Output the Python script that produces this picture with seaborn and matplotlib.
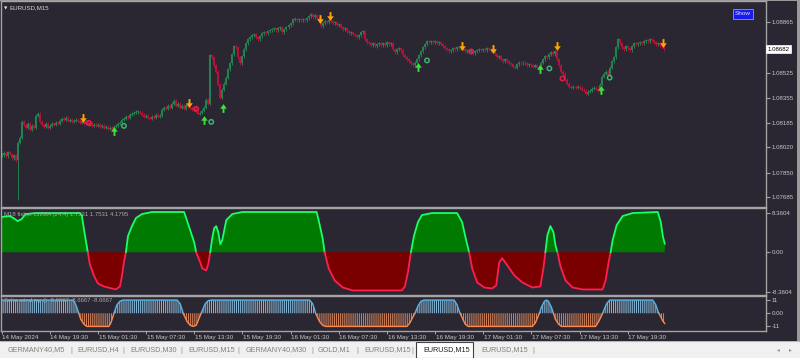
import numpy as np
import matplotlib
matplotlib.use("Agg")
import matplotlib.pyplot as plt
import matplotlib.transforms as mtrans
from matplotlib.path import Path
import seaborn as sns

# ---------------- data ----------------
close_price = [
    1.07968, 1.07982, 1.07961, 1.07988, 1.07975, 1.07947, 1.07968, 1.07933, 1.08050, 1.08084,
    1.08192, 1.08172, 1.08152, 1.08179, 1.08138, 1.08165, 1.08152, 1.08233, 1.08247, 1.08192,
    1.08172, 1.08158, 1.08179, 1.08152, 1.08165, 1.08179, 1.08172, 1.08186, 1.08179, 1.08199,
    1.08213, 1.08206, 1.08220, 1.08199, 1.08206, 1.08192, 1.08199, 1.08206, 1.08199, 1.08186,
    1.08199, 1.08179, 1.08192, 1.08172, 1.08186, 1.08165, 1.08172, 1.08165, 1.08172, 1.08158,
    1.08165, 1.08152, 1.08158, 1.08145, 1.08152, 1.08138, 1.08158, 1.08165, 1.08179, 1.08186,
    1.08206, 1.08213, 1.08227, 1.08220, 1.08240, 1.08247, 1.08254, 1.08261, 1.08261, 1.08254,
    1.08240, 1.08227, 1.08233, 1.08220, 1.08213, 1.08227, 1.08220, 1.08240, 1.08227, 1.08233,
    1.08274, 1.08288, 1.08281, 1.08302, 1.08288, 1.08315, 1.08335, 1.08302, 1.08315, 1.08288,
    1.08302, 1.08281, 1.08308, 1.08295, 1.08288, 1.08274, 1.08288, 1.08261, 1.08247, 1.08254,
    1.08268, 1.08288, 1.08342, 1.08315, 1.08641, 1.08627, 1.08573, 1.08532, 1.08444, 1.08356,
    1.08410, 1.08451, 1.08491, 1.08546, 1.08587, 1.08648, 1.08702, 1.08696, 1.08627, 1.08587,
    1.08634, 1.08682, 1.08723, 1.08750, 1.08764, 1.08777, 1.08784, 1.08764, 1.08750, 1.08771,
    1.08791, 1.08798, 1.08791, 1.08804, 1.08811, 1.08818, 1.08825, 1.08811, 1.08825, 1.08832,
    1.08798, 1.08818, 1.08832, 1.08845, 1.08859, 1.08886, 1.08886, 1.08879, 1.08886, 1.08879,
    1.08886, 1.08879, 1.08893, 1.08906, 1.08920, 1.08899, 1.08913, 1.08893, 1.08872, 1.08838,
    1.08859, 1.08872, 1.08866, 1.08879, 1.08872, 1.08859, 1.08866, 1.08845, 1.08852, 1.08832,
    1.08818, 1.08825, 1.08804, 1.08791, 1.08798, 1.08784, 1.08777, 1.08764, 1.08777, 1.08798,
    1.08804, 1.08750, 1.08730, 1.08723, 1.08709, 1.08723, 1.08702, 1.08716, 1.08723, 1.08709,
    1.08723, 1.08709, 1.08730, 1.08716, 1.08723, 1.08682, 1.08662, 1.08682, 1.08689, 1.08675,
    1.08641, 1.08627, 1.08614, 1.08600, 1.08587, 1.08573, 1.08593, 1.08614, 1.08641, 1.08668,
    1.08696, 1.08716, 1.08737, 1.08730, 1.08737, 1.08730, 1.08737, 1.08723, 1.08730, 1.08716,
    1.08702, 1.08689, 1.08682, 1.08668, 1.08675, 1.08689, 1.08682, 1.08696, 1.08689, 1.08696,
    1.08682, 1.08668, 1.08675, 1.08662, 1.08675, 1.08655, 1.08668, 1.08675, 1.08682, 1.08675,
    1.08682, 1.08675, 1.08689, 1.08682, 1.08675, 1.08668, 1.08648, 1.08627, 1.08634, 1.08614,
    1.08600, 1.08614, 1.08600, 1.08587, 1.08580, 1.08566, 1.08559, 1.08580, 1.08593, 1.08587,
    1.08593, 1.08587, 1.08573, 1.08580, 1.08573, 1.08566, 1.08573, 1.08559, 1.08566, 1.08593,
    1.08614, 1.08634, 1.08627, 1.08648, 1.08662, 1.08648, 1.08668, 1.08614, 1.08573, 1.08532,
    1.08518, 1.08478, 1.08451, 1.08430, 1.08423, 1.08430, 1.08423, 1.08430, 1.08423, 1.08410,
    1.08403, 1.08383, 1.08396, 1.08403, 1.08417, 1.08423, 1.08417, 1.08403, 1.08444, 1.08498,
    1.08518, 1.08532, 1.08512, 1.08559, 1.08600, 1.08627, 1.08696, 1.08750, 1.08723, 1.08696,
    1.08682, 1.08702, 1.08689, 1.08675, 1.08702, 1.08723, 1.08716, 1.08723, 1.08730, 1.08723,
    1.08737, 1.08744, 1.08737, 1.08750, 1.08744, 1.08730, 1.08716, 1.08723, 1.08709, 1.08702,
    1.08682,
]
spike_bar = [8]
spike_low = [1.07661]

down_arrow_bar = [40.5, 93.5, 158.5, 163.5, 229.5, 245, 277, 329.5]
down_arrow_price = [1.08219, 1.08321, 1.08886, 1.08907, 1.08702, 1.08682, 1.08702, 1.08723]
up_arrow_bar = [56, 101, 110.5, 207.5, 268.5, 298.5]
up_arrow_price = [1.08131, 1.08206, 1.08287, 1.08560, 1.08546, 1.08410]
green_ring_bar = [61, 104.5, 212, 273, 303]
green_ring_price = [1.08165, 1.08192, 1.08607, 1.08553, 1.08491]
red_ring_bar = [43.5, 97, 234, 279.5]
red_ring_price = [1.08185, 1.08280, 1.08668, 1.08485]

price_ticks = [1.08865, 1.08525, 1.08355, 1.08185, 1.08020, 1.07850, 1.07685]
last_price = 1.08682

fisher_bar = [0, 4, 6, 8, 10, 12, 17, 39, 40, 41, 42, 43, 44, 46, 48, 51, 55, 57, 59, 60,
              61, 62, 63, 65, 67, 70, 75, 91, 92, 94, 96, 97, 99, 100, 102, 103, 104, 105, 106, 107,
              108, 109, 110, 111, 112, 115, 120, 157, 158, 160, 161, 163, 166, 170, 175, 199.5, 201, 202.5, 204, 205.5,
              207.5, 209.5, 214.5, 227, 229.5, 231.5, 233, 234.5, 237, 240.5, 244.5, 246.5, 248, 249.5, 252, 255.5, 259.5, 264.5, 268.5, 270,
              271, 272, 273.5, 275, 276, 277, 278.5, 281, 284.5, 289.5, 299.5, 301, 302.5, 303.5, 304.5, 306.5, 309.5, 314.5, 327, 328.5,
              329.5, 330.5]
fisher_val = [7.41, 7.62, 7.20, 6.56, 6.98, 8.04, 8.25, 8.25, 7.83, 5.08, 2.54, 0.0, -2.54, -4.87, -6.56, -7.20, -7.62, -7.83, -7.20, -5.08,
              -2.12, 0.0, 3.39, 5.50, 7.20, 8.04, 8.47, 8.47, 7.20, 4.66, 2.12, 0.0, -2.12, -3.39, -3.81, -2.54, 0.0, 2.96, 5.08, 5.50,
              4.23, 1.69, 2.54, 4.66, 6.77, 8.04, 8.47, 8.47, 6.77, 2.96, 0.0, -3.39, -5.93, -7.41, -8.04, -8.04, -7.20, -4.23, 0.0, 3.39,
              6.35, 7.83, 8.25, 8.25, 6.35, 2.54, 0.0, -3.39, -6.35, -7.41, -7.62, -6.98, -2.12, -1.27, -2.75, -4.87, -6.35, -7.41, -7.20, -3.39,
              0.0, 3.60, 5.50, 4.23, 1.48, 0.0, -2.96, -5.93, -7.41, -7.83, -7.83, -5.93, -2.12, 0.0, 2.54, 5.71, 7.62, 8.25, 8.47, 6.35,
              3.39, 1.7531]
fisher_ticks = [8.3604, 0.0, -8.3604]
fisher_ticklabels = ["8.3604", "0.00", "-8.3604"]

solar_bar = [0, 35.5, 36.5, 37.5, 38.5, 39.5, 41, 42.5, 53.5, 54.5, 55.5, 56, 57.5, 59, 60.5, 87.5, 89, 90, 90.5, 92.5,
             94, 95.5, 97, 98, 99.5, 101.5, 103, 104.5, 153.5, 155, 156, 156.5, 158.5, 160, 161.5, 202, 203.5, 205, 206, 207.5,
             209, 210.5, 225.5, 227, 228, 228.5, 231, 232.5, 264.5, 266, 267.5, 268, 269, 270.5, 271.5, 272.5, 274, 275, 276, 277.5,
             279, 296, 297.5, 299, 299.5, 301.5, 303, 324.5, 326, 327, 327.5, 328.5, 329.5, 330.5]
solar_val = [11, 11, 9, 5, 0, -5, -9, -11, -11, -8, -3, 0, 7, 10, 11, 11, 8, 3, 0, -7,
             -10, -11, -10, -6, 0, 8, 10.5, 11, 11, 8, 3, 0, -7, -10, -11, -11, -8, -3, 0, 6,
             10, 11, 11, 7, 2, 0, -9, -11, -11, -8, -2, 0, 5, 10, 11, 10, 5, 0, -5, -9,
             -11, -11, -7, -2, 0, 8, 11, 11, 7, 2, 0, -3, -6.5, -8.6667]
solar_ticks = [11, 0, -11]
solar_ticklabels = ["11", "0.00", "-11"]

time_labels = ["14 May 2024", "14 May 19:30", "15 May 01:30", "15 May 07:30", "15 May 13:30",
               "15 May 19:30", "16 May 01:30", "16 May 07:30", "16 May 13:30", "16 May 19:30",
               "17 May 01:30", "17 May 07:30", "17 May 13:30", "17 May 19:30"]
bars_per_label = 24

tabs = ["GERMANY40,M5", "EURUSD,H4", "EURUSD,M30", "EURUSD,M15", "GERMANY40,M30",
        "GOLD,M1", "EURUSD,M15", "EURUSD,M15", "EURUSD,M15"]
active_tab = 7

# ---------------- style ----------------
sns.set_theme(style="dark")
plt.rcParams['font.family'] = ['Liberation Sans', 'DejaVu Sans']
plt.rcParams['hatch.linewidth'] = 0.75

BG = '#2a2632'
FRAME = '#a4a4a4'
TXT = '#c8c8c8'
W, H = 800, 358
PX_PER_BAR = 2.007

fig = plt.figure(figsize=(8, 3.58), dpi=100, facecolor=BG)


def add_ax(top, bottom, left=0.5, right=765.5):
    ax = fig.add_axes([left / W, 1 - bottom / H, (right - left) / W, (bottom - top) / H])
    ax.set_facecolor(BG)
    for s in ax.spines.values():
        s.set_color(FRAME)
        s.set_linewidth(1.0)
        s.set_visible(True)
    ax.set_xlim(-1 / PX_PER_BAR, 764 / PX_PER_BAR)
    ax.grid(False)
    ax.tick_params(axis='x', bottom=False, labelbottom=False)
    ax.yaxis.tick_right()
    ax.tick_params(axis='y', right=True, left=False, length=3, width=0.8, color=FRAME,
                   labelsize=4.4, labelcolor=TXT, pad=1.5)
    return ax


ax_main = add_ax(1.0, 206.5)
ax_fish = add_ax(208.0, 294.5)
ax_sol = add_ax(296.0, 330.5)

# ---------------- main candles ----------------
close = np.array(close_price)
opn = np.r_[close[0], close[:-1]]
idx = np.arange(len(close))
bull = close >= opn
body_hi = np.maximum(opn, close)
body_lo = np.minimum(opn, close)
min_body = 0.00006
small = (body_hi - body_lo) < min_body
mid = (body_hi + body_lo) / 2
body_hi = np.where(small, mid + min_body / 2, body_hi)
body_lo = np.where(small, mid - min_body / 2, body_lo)
WICK = 0.00010
wick_hi = body_hi + WICK
wick_lo = body_lo - WICK
for b, lo in zip(spike_bar, spike_low):
    wick_lo[b] = lo

GREEN_C = '#24804f'
RED_C = '#b3123a'
for mask, col in ((bull, GREEN_C), (~bull, RED_C)):
    ax_main.vlines(idx[mask], wick_lo[mask], wick_hi[mask], color=col, lw=0.7)
    ax_main.vlines(idx[mask], body_lo[mask], body_hi[mask], color=col, lw=1.5)

ax_main.set_ylim(1.076204, 1.090086)

down_path = Path([(-0.22, 1), (0.22, 1), (0.22, 0.05), (0.75, 0.05), (0, -1), (-0.75, 0.05), (-0.22, 0.05), (-0.22, 1)],
                 [Path.MOVETO] + [Path.LINETO] * 6 + [Path.CLOSEPOLY])
up_path = Path([(x, -y) for x, y in down_path.vertices], down_path.codes)

ax_main.scatter(down_arrow_bar, down_arrow_price, marker=down_path, s=40, color='#ffa500', lw=0, zorder=5)
ax_main.scatter(up_arrow_bar, up_arrow_price, marker=up_path, s=40, color='#3de03d', lw=0, zorder=5)
ax_main.scatter(green_ring_bar, green_ring_price, marker='o', s=10, facecolors='none',
                edgecolors='#3cb371', linewidths=1.1, zorder=5)
ax_main.scatter(red_ring_bar, red_ring_price, marker='o', s=10, facecolors='none',
                edgecolors='#e0204a', linewidths=1.1, zorder=5)

ax_main.set_yticks(price_ticks)
ax_main.set_yticklabels([f"{p:.5f}" for p in price_ticks])
ax_main.text(1.0025, last_price, f"{last_price:.5f}", transform=ax_main.get_yaxis_transform(),
             ha='left', va='center', fontsize=4.4, color='#000000',
             bbox=dict(boxstyle='square,pad=0.25', fc='white', ec='white', lw=0.5), zorder=10, clip_on=False)

ax_main.text(0.004, 0.965, "\u25BC", transform=ax_main.transAxes, fontsize=3.2, color='#e8e8e8',
             ha='left', va='center', family=['DejaVu Sans'])
ax_main.text(0.012, 0.965, "EURUSD,M15", transform=ax_main.transAxes, fontsize=4.4, color='#d8d8d8',
             ha='left', va='center')
ax_main.text(0.9705, 0.937, "Show", transform=ax_main.transAxes, fontsize=4.6, color='#e0e0ff',
             ha='center', va='center',
             bbox=dict(boxstyle='square,pad=0.35', fc='#1a1af0', ec='#9090ff', lw=0.6))


# ---------------- sign runs helper ----------------
def sign_runs(v):
    runs = []
    cur = [0]
    cur_sign = np.sign(v[0]) if v[0] != 0 else 1
    for i in range(1, len(v)):
        s = np.sign(v[i])
        if s == 0 or s == cur_sign:
            cur.append(i)
        else:
            runs.append((cur_sign, cur))
            cur = ([cur[-1]] if v[cur[-1]] == 0 else []) + [i]
            cur_sign = s
    runs.append((cur_sign, cur))
    return runs


# ---------------- fisher ----------------
fx = np.array(fisher_bar, dtype=float)
fv = np.array(fisher_val, dtype=float)
ax_fish.fill_between(fx, fv, 0, where=fv >= 0, interpolate=True, color='#007a00', lw=0)
ax_fish.fill_between(fx, fv, 0, where=fv <= 0, interpolate=True, color='#7a0000', lw=0)
for sgn, r in sign_runs(fv):
    sns.lineplot(x=fx[r], y=fv[r], ax=ax_fish, color='#19ff6a' if sgn > 0 else '#ff1f4f',
                 lw=1.3, estimator=None, sort=False)
ax_fish.set_ylim(-8.889, 9.312)
ax_fish.set_yticks(fisher_ticks)
ax_fish.set_yticklabels(fisher_ticklabels)
ax_fish.set_ylabel("")
ax_fish.text(0.004, 0.93, "M18 fisher LWMA (24,4) 1.7531 1.7531 4.1795", transform=ax_fish.transAxes,
             fontsize=4.3, color='#a8a8a8', ha='left', va='center')

# ---------------- solar wind ----------------
sx = np.array(solar_bar, dtype=float)
sv = np.array(solar_val, dtype=float)
ax_sol.fill_between(sx, sv, 0, where=sv >= 0, interpolate=True, facecolor='none',
                    edgecolor='#86b6d6', hatch='||||||||', lw=0)
ax_sol.fill_between(sx, sv, 0, where=sv <= 0, interpolate=True, facecolor='none',
                    edgecolor='#d08058', hatch='||||||||', lw=0)
for sgn, r in sign_runs(sv):
    sns.lineplot(x=sx[r], y=sv[r], ax=ax_sol, color='#58b4e4' if sgn > 0 else '#ff8a50',
                 lw=1.0, estimator=None, sort=False)
ax_sol.set_ylim(-14.385, 14.385)
ax_sol.set_yticks(solar_ticks)
ax_sol.set_yticklabels(solar_ticklabels)
ax_sol.set_ylabel("")
ax_sol.text(0.004, 0.86, "Solar wind joy () -8.6667 -8.6667 -8.6667", transform=ax_sol.transAxes,
            fontsize=4.3, color='#a8a8a8', ha='left', va='center')

# time axis
tick_pos = [k * bars_per_label for k in range(len(time_labels))]
ax_sol.set_xticks(tick_pos)
ax_sol.tick_params(axis='x', bottom=True, length=2, width=0.7, color=FRAME, labelbottom=False)
tr = mtrans.blended_transform_factory(ax_sol.transData, ax_sol.transAxes)
for p, lab in zip(tick_pos, time_labels):
    ax_sol.text(p + 0.4, -0.14, lab, transform=tr, fontsize=4.5, color=TXT, ha='left', va='top',
                clip_on=False)
for ax in (ax_main, ax_fish, ax_sol):
    ax.set_xlim(-1 / PX_PER_BAR, 764 / PX_PER_BAR)

# ---------------- borders & tab bar ----------------
frame_ax = fig.add_axes([0, 0, 1, 1], zorder=-1)
frame_ax.set_xlim(0, W)
frame_ax.set_ylim(H, 0)
frame_ax.axis('off')
frame_ax.add_patch(plt.Rectangle((0, 0), W, 1.2, color='#9a9a9a', lw=0))
frame_ax.add_patch(plt.Rectangle((797, 0), 3, 341, color='#9a9a9a', lw=0))

tab_ax = fig.add_axes([0, 0, 1, 17.5 / H], zorder=3)
tab_ax.set_xlim(0, W)
tab_ax.set_ylim(17.5, 0)
tab_ax.set_facecolor('#f0f0f0')
for s in tab_ax.spines.values():
    s.set_visible(False)
tab_ax.set_xticks([])
tab_ax.set_yticks([])
tab_ax.axhline(0.3, color='#b8b8b8', lw=0.8)
tab_x = [8, 77, 130, 188, 246, 318, 364, 423, 481]
sep_x = [71, 123, 181, 238, 312, 357, 412, 533]
for i, (tx, name) in enumerate(zip(tab_x, tabs)):
    if i == active_tab:
        tab_ax.add_patch(plt.Rectangle((416, 1.5), 57, 16, fc='white', ec='#404040', lw=0.8))
        tab_ax.text(tx, 9.5, name, fontsize=5.2, color='#202020', ha='left', va='center')
    else:
        tab_ax.text(tx, 9.5, name, fontsize=5.2, color='#808080', ha='left', va='center')
for sxp in sep_x:
    tab_ax.text(sxp, 9.5, "|", fontsize=5.2, color='#909090', ha='center', va='center')
tab_ax.text(778, 9.5, "\u25C2", fontsize=4, color='#909090', ha='center', va='center', family=['DejaVu Sans'])
tab_ax.text(790, 9.5, "\u25B8", fontsize=4, color='#909090', ha='center', va='center', family=['DejaVu Sans'])

fig.savefig("out.png", dpi=100, facecolor=BG)
